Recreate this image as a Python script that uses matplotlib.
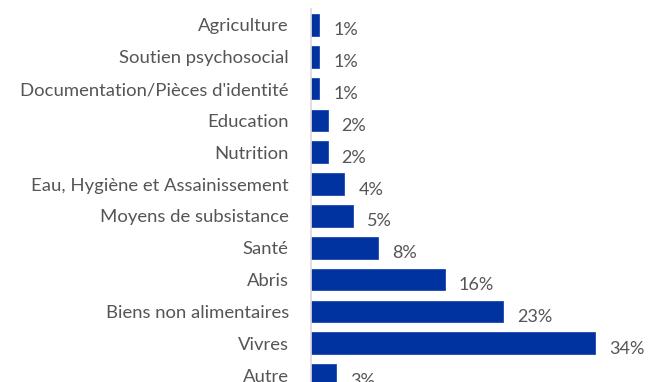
import matplotlib.pyplot as plt

plt.rcParams['font.family'] = ['Lato', 'DejaVu Sans']

categories = ['Agriculture', 'Soutien psychosocial', "Documentation/Pièces d'identité",
              'Education', 'Nutrition', 'Eau, Hygiène et Assainissement',
              'Moyens de subsistance', 'Santé', 'Abris', 'Biens non alimentaires',
              'Vivres', 'Autre']
values = [1, 1, 1, 2, 2, 4, 5, 8, 16, 23, 34, 3]

bar_color = '#0033a0'
text_color = '#555555'

fig = plt.figure(figsize=(6.48, 3.82), dpi=100)
ax = fig.add_axes([311 / 648, -9 / 382, 329 / 648, 382 / 382])

pos = list(range(len(categories)))
ax.barh(pos, values, height=0.68, color=bar_color, edgecolor='#1a48b0', linewidth=0.6)
ax.set_ylim(len(categories) - 0.5, -0.5)
ax.set_xlim(0, 39.4)

ax.set_yticks(pos)
ax.set_yticklabels(categories, fontsize=13.3, color=text_color)
ax.tick_params(axis='y', length=0, pad=16)
ax.set_xticks([])

for s in ['top', 'right', 'bottom']:
    ax.spines[s].set_visible(False)
ax.spines['left'].set_color('#d9d9d9')
ax.spines['left'].set_linewidth(1.2)

for p, v in zip(pos, values):
    ax.annotate(f'{v}%', (v, p), xytext=(10, -4), textcoords='offset points',
                va='center', ha='left', fontsize=13, color=text_color)

fig.savefig('out.png', dpi=100)
